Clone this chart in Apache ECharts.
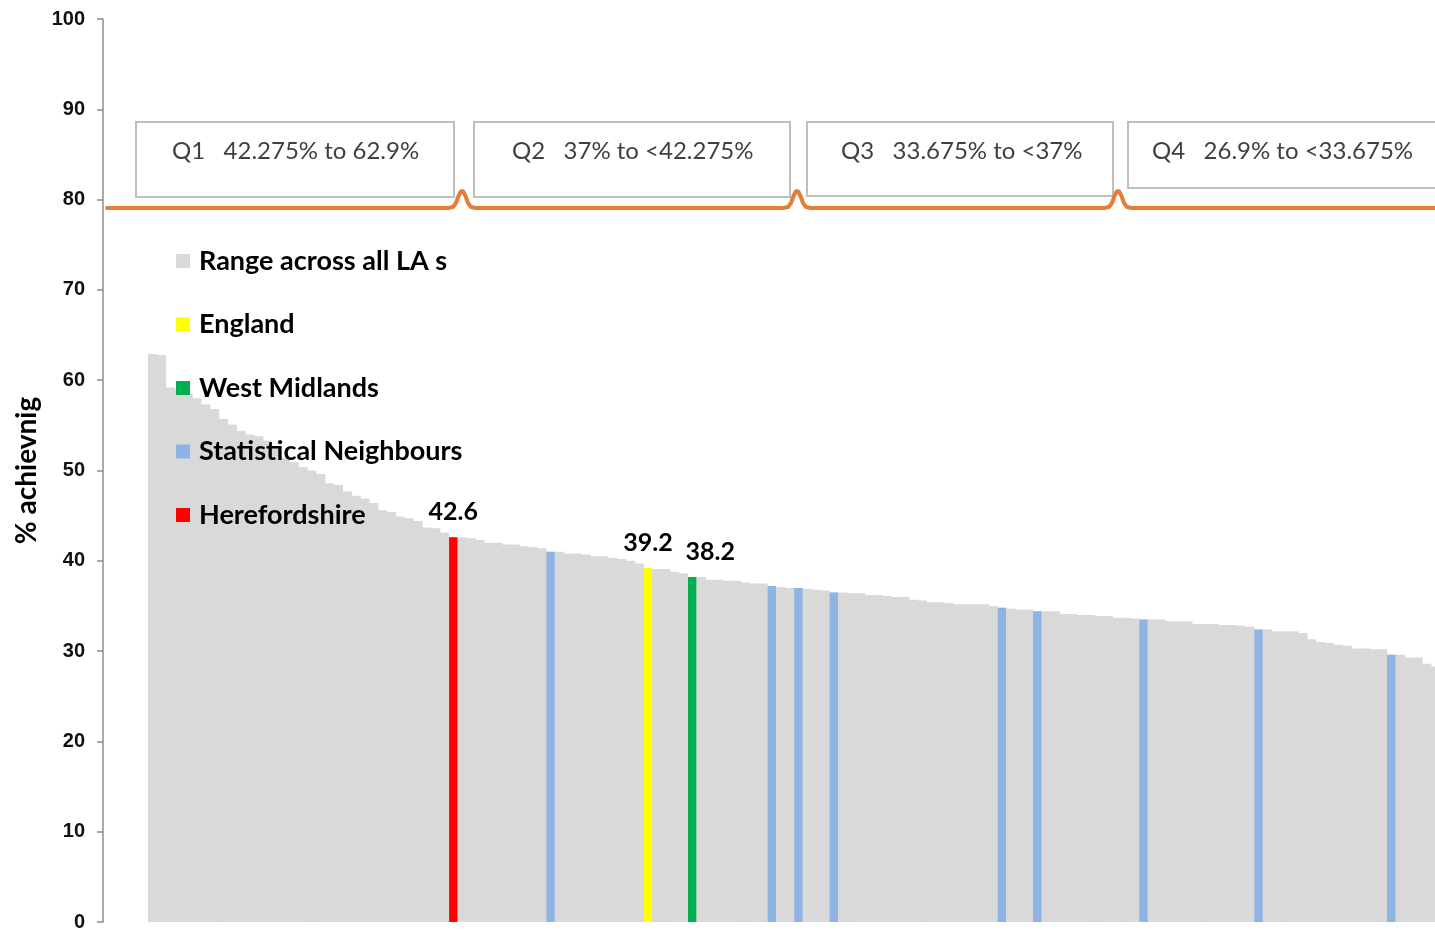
<!DOCTYPE html>
<html>
<head>
<meta charset="utf-8">
<script src="https://cdn.jsdelivr.net/npm/echarts@6/dist/echarts.min.js"></script>
<style>
  html, body { margin: 0; padding: 0; background: #fff; }
  #chart { width: 1435px; height: 930px; }
</style>
</head>
<body>
<div id="chart"></div>
<script>
// ---- DATA ----
// All local authorities (incl. England and West Midlands rows), sorted high to low
const rangeValues = [
  62.9, 62.8, 59.2, 59.0, 58.5, 58.0, 57.3, 56.8, 55.7, 55.1,
  54.4, 54.0, 53.8, 53.3, 52.6, 51.4, 50.9, 50.4, 50.0, 49.6,
  48.6, 48.4, 47.7, 47.2, 46.9, 46.4, 45.6, 45.4, 44.9, 44.7,
  44.4, 43.7, 43.6, 43.1, 42.6, 42.6, 42.5, 42.3, 42.0, 42.0,
  41.8, 41.8, 41.6, 41.5, 41.4, 41.0, 41.0, 40.8, 40.8, 40.7,
  40.5, 40.5, 40.3, 40.2, 40.0, 39.7, 39.2, 39.1, 39.1, 38.8,
  38.6, 38.2, 38.2, 37.9, 37.9, 37.8, 37.8, 37.6, 37.5, 37.5,
  37.2, 37.1, 37.0, 37.0, 36.9, 36.8, 36.7, 36.5, 36.5, 36.4,
  36.4, 36.2, 36.2, 36.1, 36.0, 36.0, 35.7, 35.6, 35.4, 35.4,
  35.3, 35.2, 35.2, 35.2, 35.2, 35.0, 34.8, 34.7, 34.6, 34.6,
  34.4, 34.4, 34.4, 34.1, 34.1, 34.0, 34.0, 33.9, 33.9, 33.7,
  33.7, 33.6, 33.5, 33.5, 33.5, 33.3, 33.3, 33.3, 33.0, 33.0,
  33.0, 32.9, 32.9, 32.8, 32.7, 32.4, 32.4, 32.2, 32.2, 32.2,
  32.0, 31.3, 31.0, 30.9, 30.7, 30.6, 30.3, 30.3, 30.2, 30.2,
  29.6, 29.6, 29.3, 29.3, 28.6, 28.3, 28.0, 27.8, 27.5, 27.3,
  27.1, 26.9
];
const categories = rangeValues.map((v, i) => String(i + 1));

const herefordshireRank = 35;
const herefordshireValue = 42.6;
const englandRank = 57;
const englandValue = 39.2;
const westMidlandsRank = 62;
const westMidlandsValue = 38.2;
const statNeighbourRanks = [46, 71, 74, 78, 97, 101, 113, 126, 141];
const statNeighbourValues = [41.0, 37.2, 37.0, 36.5, 34.8, 34.4, 33.5, 32.4, 29.6];

const yTicks = [0, 10, 20, 30, 40, 50, 60, 70, 80, 90, 100];
const quartileLabels = [
  'Q1   42.275% to 62.9%',
  'Q2   37% to <42.275%',
  'Q3   33.675% to <37%',
  'Q4   26.9% to <33.675%'
];
const seriesNames = ['Range across all LA s', 'England', 'West Midlands', 'Statistical Neighbours', 'Herefordshire'];

// ---- helpers ----
function placed(ranks, values) {
  const arr = categories.map(() => null);
  ranks.forEach((r, i) => { arr[r - 1] = values[i]; });
  return arr;
}

const chart = echarts.init(document.getElementById('chart'));

const labelStyle = {
  show: true, position: 'top', distance: 13,
  fontFamily: 'Lato', fontWeight: 'bold', fontSize: 25, color: '#000',
  formatter: p => p.value.toFixed(1)
};

// quartile boxes (annotation)
const boxes = [
  { x: 136, y: 122, w: 318, h: 75, tx: 172 },
  { x: 474, y: 122, w: 316, h: 75, tx: 512 },
  { x: 807, y: 122, w: 306, h: 74, tx: 841 },
  { x: 1128, y: 122, w: 330, h: 66, tx: 1152 }
];
const graphics = [];
boxes.forEach((b, i) => {
  graphics.push({
    type: 'rect', z: 10,
    shape: { x: b.x, y: b.y, width: b.w, height: b.h },
    style: { fill: '#fff', stroke: '#BFBFBF', lineWidth: 2 }
  });
  graphics.push({
    type: 'text', z: 11,
    style: {
      text: quartileLabels[i], x: b.tx, y: 151,
      fontFamily: 'Lato', fontSize: 24, fill: '#404040',
      verticalAlign: 'middle', align: 'left'
    }
  });
});
// orange divider line with hop-overs
const hops = [462, 797, 1118];
const lineY = 208;
const pts = [[107, lineY]];
hops.forEach(h => {
  pts.push([h - 14, lineY], [h - 9, lineY - 1], [h - 6, lineY - 5], [h - 3.5, lineY - 12],
           [h - 1.2, lineY - 16.5], [h, lineY - 17], [h + 1.2, lineY - 16.5],
           [h + 3.5, lineY - 12], [h + 6, lineY - 5], [h + 9, lineY - 1], [h + 14, lineY]);
});
pts.push([1440, lineY]);
graphics.push({
  type: 'polyline', z: 12,
  shape: { points: pts },
  style: { stroke: '#E47D35', lineWidth: 4, fill: null, lineJoin: 'round', lineCap: 'round' }
});

const option = {
  animation: false,
  backgroundColor: '#fff',
  grid: { left: 148, width: 1345, top: 19, bottom: 8, containLabel: false, outerBoundsMode: 'none' },
  legend: {
    orient: 'vertical', left: 176, top: 246, padding: 0,
    data: seriesNames,
    icon: 'rect', itemWidth: 14, itemHeight: 14, itemGap: 33.5,
    selectedMode: false,
    textStyle: {
      fontFamily: 'Lato', fontWeight: 'bold', fontSize: 27, color: '#000',
      lineHeight: 30, padding: [0, 0, 0, 4]
    }
  },
  xAxis: [
    { type: 'category', data: categories, show: false },
    { type: 'category', data: categories, show: false }
  ],
  yAxis: {
    type: 'value', min: 0, max: 100, interval: 10, offset: 45,
    name: '% achievnig', nameLocation: 'middle', nameGap: 62, nameRotate: 90,
    nameTextStyle: { fontFamily: 'Lato', fontWeight: 'bold', fontSize: 28, color: '#000' },
    axisLine: { show: true, lineStyle: { color: '#8C8C8C', width: 1.5 } },
    axisTick: { show: true, length: 6, lineStyle: { color: '#8C8C8C', width: 1.5 } },
    splitLine: { show: false },
    axisLabel: {
      margin: 18, fontFamily: 'Liberation Sans', fontWeight: 'bold', fontSize: 20, color: '#111',
      customValues: yTicks
    }
  },
  series: [
    {
      name: seriesNames[0], type: 'bar', xAxisIndex: 0,
      data: rangeValues, barWidth: 9.6, barCategoryGap: 0,
      itemStyle: { color: '#D9D9D9' },
      z: 1
    },
    {
      name: seriesNames[1], type: 'bar', xAxisIndex: 1, barGap: '-100%', barWidth: '94%',
      data: placed([englandRank], [englandValue]),
      itemStyle: { color: '#FFFF00' }, label: labelStyle, z: 3
    },
    {
      name: seriesNames[2], type: 'bar', xAxisIndex: 1, barGap: '-100%', barWidth: '94%',
      data: placed([westMidlandsRank], [westMidlandsValue]),
      itemStyle: { color: '#00B050' }, label: Object.assign({}, labelStyle, { offset: [18, 0] }), z: 3
    },
    {
      name: seriesNames[3], type: 'bar', xAxisIndex: 1, barGap: '-100%', barWidth: '94%',
      data: placed(statNeighbourRanks, statNeighbourValues),
      itemStyle: { color: '#8DB4E2' }, z: 3
    },
    {
      name: seriesNames[4], type: 'bar', xAxisIndex: 1, barGap: '-100%', barWidth: '94%',
      data: placed([herefordshireRank], [herefordshireValue]),
      itemStyle: { color: '#FF0000' }, label: labelStyle, z: 3
    }
  ],
  graphic: graphics
};
chart.setOption(option);
</script>
</body>
</html>
